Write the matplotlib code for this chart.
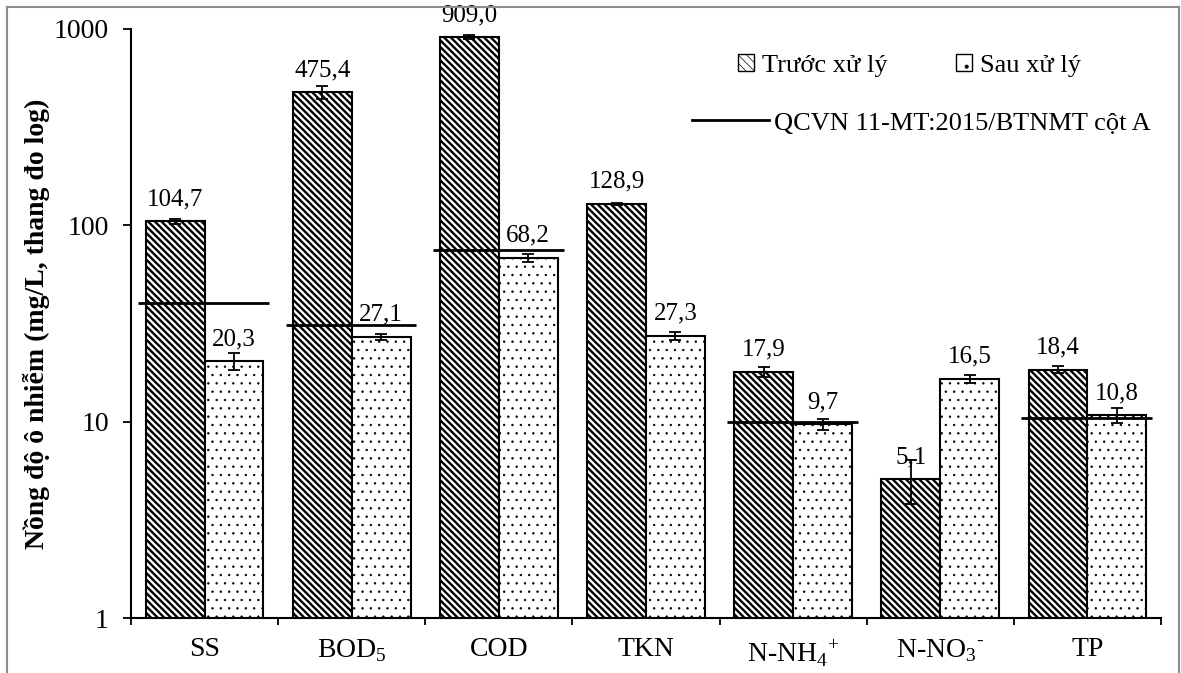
import numpy as np
import matplotlib
matplotlib.use("Agg")
import matplotlib.pyplot as plt
from matplotlib.patches import Patch
from matplotlib.lines import Line2D

categories = ['SS', r'BOD$_\mathregular{5}$', 'COD', 'TKN',
              r'N-NH$_\mathregular{4}$$^\mathregular{+}$',
              'N-NO$_\\mathregular{3}$$^\\mathregular{\u2010}$', 'TP']
before = [104.7, 475.4, 909.0, 128.9, 17.9, 5.1, 18.4]
after = [20.3, 27.1, 68.2, 27.3, 9.7, 16.5, 10.8]
before_err = [3.0, 35.0, 20.0, 1.5, 1.0, 1.3, 0.8]
after_err = [2.0, 1.0, 3.3, 1.3, 0.6, 0.8, 0.9]
standard = [40, 31, 75, np.nan, 10, np.nan, 10.5]

plt.rcParams['font.family'] = ['Liberation Serif', 'DejaVu Serif']
plt.rcParams['hatch.color'] = 'black'

HATCH_A = '\\\\\\\\\\'
HATCH_B = '..'

fig = plt.figure(figsize=(11.81, 6.73), dpi=100)
ax = fig.add_axes([131 / 1181, 1 - 618 / 673, 1030 / 1181, 589 / 673])

# outer chart frame (Excel style)
for xs, ys in [([7, 7], [673, 7]), ([7, 1179], [7, 7]), ([1179, 1179], [7, 673])]:
    fig.add_artist(Line2D([v / 1181 for v in xs], [1 - v / 673 for v in ys],
                          color='#8c8c8c', lw=1.5, transform=fig.transFigure))

x = np.arange(len(categories))
w = 0.40


def set_hlw(artists, lw):
    for a in artists:
        if hasattr(a, 'set_hatch_linewidth'):
            a.set_hatch_linewidth(lw)


plt.rcParams['hatch.linewidth'] = 1.7
b1 = ax.bar(x - w / 2, before, w, facecolor='white', edgecolor='black', linewidth=1.5,
            hatch=HATCH_A, zorder=2)
set_hlw(b1, 1.7)
plt.rcParams['hatch.linewidth'] = 0.5
b2 = ax.bar(x + w / 2, after, w, facecolor='white', edgecolor='black', linewidth=1.5,
            hatch=HATCH_B, zorder=2)
set_hlw(b2, 0.5)

ax.errorbar(x - w / 2, before, yerr=before_err, fmt='none', ecolor='black',
            elinewidth=1.3, capsize=4, capthick=1.3, zorder=4)
ax.errorbar(x + w / 2, after, yerr=after_err, fmt='none', ecolor='black',
            elinewidth=1.3, capsize=4, capthick=1.3, zorder=4)

# QCVN limit lines
for i, s in enumerate(standard):
    if not np.isnan(s):
        ax.hlines(s, i - 0.45, i + 0.44, color='black', lw=2, zorder=5)

# value labels
for xi, v in zip(x - w / 2, before):
    ax.annotate(f'{v:.1f}'.replace('.', ','), (xi, v), xytext=(0, 8),
                textcoords='offset points', ha='center', va='bottom', fontsize=18)
for xi, v in zip(x + w / 2, after):
    ax.annotate(f'{v:.1f}'.replace('.', ','), (xi, v), xytext=(0, 8),
                textcoords='offset points', ha='center', va='bottom', fontsize=18)

ax.set_yscale('log')
ax.set_ylim(1, 1000)
ax.set_xlim(-0.5, len(categories) - 0.5)
ax.set_yticks([1, 10, 100, 1000])
ax.set_yticklabels(['1', '10', '100', '1000'])
ax.yaxis.set_minor_locator(matplotlib.ticker.NullLocator())
ax.tick_params(axis='y', which='major', direction='out', length=6, width=1.3,
               labelsize=20, pad=10)

ax.set_xticks(np.arange(len(categories) + 1) - 0.5)
ax.set_xticklabels([])
ax.set_xticks(x, minor=True)
ax.set_xticklabels(categories, minor=True)
ax.tick_params(axis='x', which='major', direction='out', length=5, width=1.3)
ax.tick_params(axis='x', which='minor', length=0, labelsize=20, pad=14)

for side in ['top', 'right']:
    ax.spines[side].set_visible(False)
for side in ['left', 'bottom']:
    ax.spines[side].set_linewidth(1.5)

ax.set_ylabel('Nồng độ ô nhiễm (mg/L, thang đo log)', fontsize=20, fontweight='bold')
ax.yaxis.set_label_coords(-0.079, 0.5)

# legends
plt.rcParams['hatch.linewidth'] = 1.4
h1 = Patch(facecolor='white', edgecolor='black', hatch='\\\\\\\\', label='Trước xử lý')
plt.rcParams['hatch.linewidth'] = 0.5
h2 = Patch(facecolor='white', edgecolor='black', hatch='.', label='Sau xử lý')
leg1 = fig.legend(handles=[h1, h2], loc='upper left', bbox_to_anchor=(0.625, 0.92),
                  ncol=2, frameon=False, fontsize=19, handlelength=0.6, handleheight=0.6,
                  handletextpad=0.3, columnspacing=2.6, borderpad=0, borderaxespad=0)
h3 = Line2D([0], [0], color='black', lw=2, label='QCVN 11-MT:2015/BTNMT cột A')
leg2 = fig.legend(handles=[h3], loc='upper left', bbox_to_anchor=(0.586, 0.835),
                  frameon=False, fontsize=19, handlelength=2.9, handletextpad=0.2,
                  borderpad=0, borderaxespad=0)

fig.savefig('out.png', dpi=100)
